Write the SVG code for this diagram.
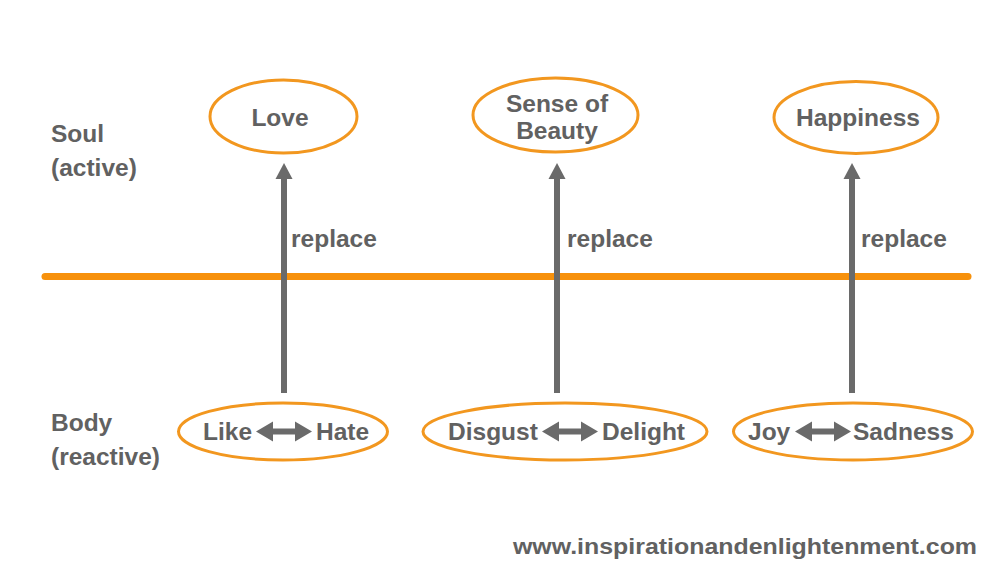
<svg xmlns="http://www.w3.org/2000/svg" width="1000" height="579" viewBox="0 0 1000 579">
<defs>
<style>
text{font-family:"Liberation Sans",Arial,sans-serif;font-weight:bold;fill:#616161;font-size:24.5px}
.node{fill:#fff;stroke:#F2971F;stroke-width:3}
.conn{stroke:#6a6a6a;stroke-width:6;fill:none}
.mid{text-anchor:middle}
.dbl{fill:#6a6a6a}
</style>
<marker id="ah" markerUnits="userSpaceOnUse" markerWidth="18" markerHeight="18" viewBox="0 0 18 18" refX="9" refY="16" orient="0">
<path d="M9 0 L17.5 16 L0.5 16 Z" fill="#6a6a6a"/>
</marker>
<path id="da" d="M0 0 L17 -10 L17 -3 L39 -3 L39 -10 L56 0 L39 10 L39 3 L17 3 L17 10 Z"/>
</defs>
<rect width="1000" height="579" fill="#fff"/>
<g id="divider">
<line x1="45" y1="276.5" x2="968" y2="276.5" stroke="#F7910C" stroke-width="7" stroke-linecap="round"/>
</g>
<g id="labels">
<text x="51" y="142">Soul</text>
<text x="51" y="176">(active)</text>
<text x="51" y="431">Body</text>
<text x="51" y="465">(reactive)</text>
</g>
<g id="connectors">
<line class="conn" x1="284" y1="393" x2="284" y2="179" marker-end="url(#ah)"/>
<line class="conn" x1="557" y1="393" x2="557" y2="179" marker-end="url(#ah)"/>
<line class="conn" x1="852" y1="393" x2="852" y2="179" marker-end="url(#ah)"/>
<text x="291" y="247">replace</text>
<text x="567" y="247">replace</text>
<text x="861" y="247">replace</text>
</g>
<g id="love">
<ellipse class="node" cx="283.5" cy="116.5" rx="73.5" ry="36.5"/>
<text class="mid" x="280" y="126">Love</text>
</g>
<g id="beauty">
<ellipse class="node" cx="555.5" cy="115" rx="82.5" ry="37"/>
<text class="mid" x="557" y="112">Sense of</text>
<text class="mid" x="557" y="139">Beauty</text>
</g>
<g id="happiness">
<ellipse class="node" cx="856" cy="117.5" rx="82" ry="36"/>
<text class="mid" x="858" y="126">Happiness</text>
</g>
<g id="likehate">
<ellipse class="node" cx="283" cy="431.5" rx="104.5" ry="28.5"/>
<text x="203" y="440">Like</text>
<use href="#da" class="dbl" transform="translate(256,431.5)"/>
<text x="316" y="440">Hate</text>
</g>
<g id="disgustdelight">
<ellipse class="node" cx="565" cy="431.5" rx="142" ry="28.5"/>
<text x="448" y="440">Disgust</text>
<use href="#da" class="dbl" transform="translate(542,431.5)"/>
<text x="602" y="440">Delight</text>
</g>
<g id="joysadness">
<ellipse class="node" cx="853" cy="431.5" rx="119.5" ry="28.5"/>
<text x="748" y="440">Joy</text>
<use href="#da" class="dbl" transform="translate(795,431.5)"/>
<text x="853" y="440">Sadness</text>
</g>
<g id="footer">
<text x="977" y="554" style="text-anchor:end;font-size:22px" textLength="464" lengthAdjust="spacingAndGlyphs">www.inspirationandenlightenment.com</text>
</g>
</svg>
